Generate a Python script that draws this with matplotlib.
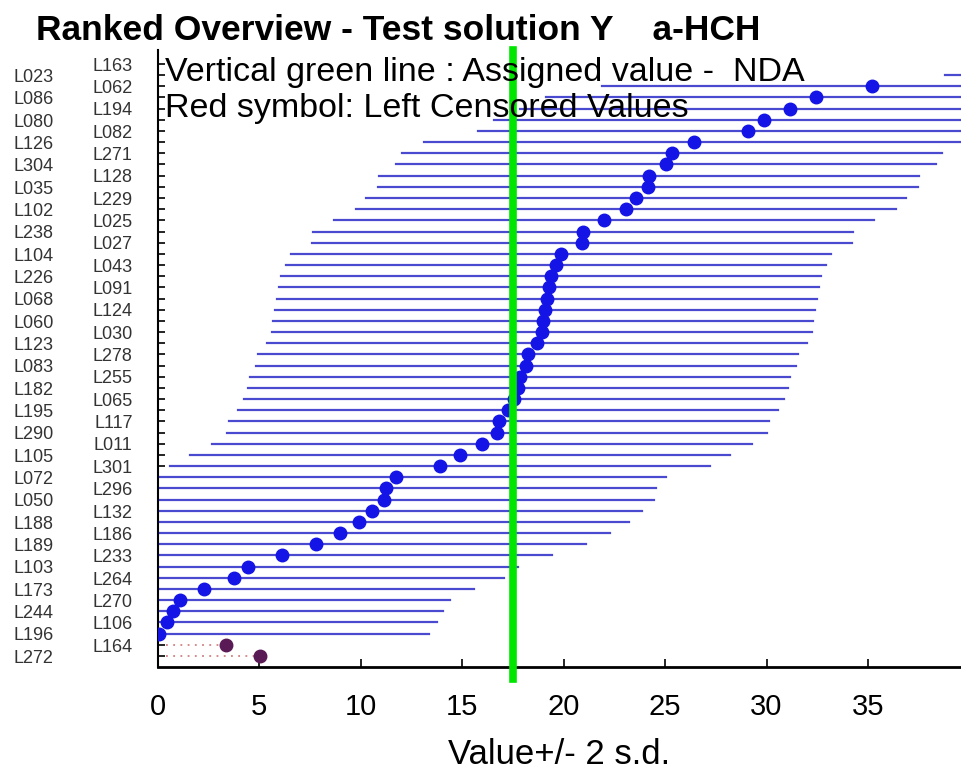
import numpy as np
import matplotlib
matplotlib.use('Agg')
from matplotlib import pyplot as plt

plt.rcParams['font.family'] = ['Liberation Sans', 'DejaVu Sans']

# labs ranked from the bottom row (lowest) to the top row (highest)
labs = ['L272', 'L164', 'L196', 'L106', 'L244', 'L270', 'L173', 'L264', 'L103', 'L233',
        'L189', 'L186', 'L188', 'L132', 'L050', 'L296', 'L072', 'L301', 'L105', 'L011',
        'L290', 'L117', 'L195', 'L065', 'L182', 'L255', 'L083', 'L278', 'L123', 'L030',
        'L060', 'L124', 'L068', 'L091', 'L226', 'L043', 'L104', 'L027', 'L238', 'L025',
        'L102', 'L229', 'L035', 'L128', 'L304', 'L271', 'L126', 'L082', 'L080', 'L194',
        'L086', 'L062', 'L023', 'L163']
values = [5.05, 3.37, 0.05, 0.47, 0.78, 1.1, 2.29, 3.78, 4.44, 6.15,
          7.81, 8.97, 9.94, 10.55, 11.17, 11.24, 11.73, 13.9, 14.9, 15.97,
          16.7, 16.8, 17.28, 17.58, 17.74, 17.84, 18.15, 18.23, 18.7, 18.95,
          18.97, 19.1, 19.2, 19.28, 19.38, 19.62, 19.88, 20.93, 20.98, 22.0,
          23.06, 23.57, 24.15, 24.23, 25.03, 25.33, 26.43, 29.07, 29.89, 31.16,
          32.42, 35.18, 52.1, 55.0]
censored = ['L272', 'L164']
two_sd = 13.3
assigned = 17.5

fig = plt.figure(figsize=(9.61, 7.75), dpi=100)
ax = fig.add_axes([157.5 / 961, 108 / 775, 1 - 157.5 / 961, 617 / 775])

rows = np.arange(len(labs))
for r, lab, v in zip(rows, labs, values):
    if lab in censored:
        ax.plot([0.4, v], [r, r], color='#d08080', lw=1.3, ls=(0, (1, 3)), zorder=2)
        ax.plot(v, r, 'o', color='#5a1a55', ms=9, zorder=3)
    else:
        ax.plot([v - two_sd, v + two_sd], [r, r], color='#4a4ad0', lw=1.6, zorder=2)
        ax.plot(v, r, 'o', color='#1414e6', ms=9, zorder=3)

ax.axvline(assigned, color='#00e600', lw=5.5, zorder=4, clip_on=False, ymin=-0.02)

ax.set_xlim(0, (961 - 157.5) / 20.3)
ax.set_ylim(-0.985, 54.25)

ax.set_xticks([0, 5, 10, 15, 20, 25, 30, 35])
ax.tick_params(axis='x', direction='in', length=6, width=1.2, labelsize=21, pad=19)
ax.set_yticks(rows)
ax.set_yticklabels([])
ax.tick_params(axis='y', direction='in', length=5, width=1.2)
ax.spines['top'].set_visible(False)
ax.spines['right'].set_visible(False)
ax.spines['bottom'].set_linewidth(2)
ax.spines['left'].set_linewidth(1.5)

# two columns of lab codes, alternating rows
ytrans = ax.get_yaxis_transform()
for r, lab in zip(rows, labs):
    xpos = -104 / 803.5 if r % 2 == 0 else -25 / 803.5
    ax.text(xpos, r - 0.2, lab, transform=ytrans, ha='right', va='center',
            fontsize=13, color='#333333')

ax.set_xlabel('Value+/- 2 s.d.', fontsize=25, labelpad=12)

ax.text(0.0095, 52.2, 'Vertical green line : Assigned value -  NDA', transform=ytrans,
        fontsize=24.5, va='center', zorder=5)
ax.text(0.0095, 49.0, 'Red symbol: Left Censored Values', transform=ytrans,
        fontsize=24.5, va='center', zorder=5)

fig.text(36 / 961, 1 - 30 / 775, 'Ranked Overview - Test solution Y    a-HCH',
         fontsize=25.5, fontweight='bold', va='center')

fig.savefig('out.png', dpi=100)
